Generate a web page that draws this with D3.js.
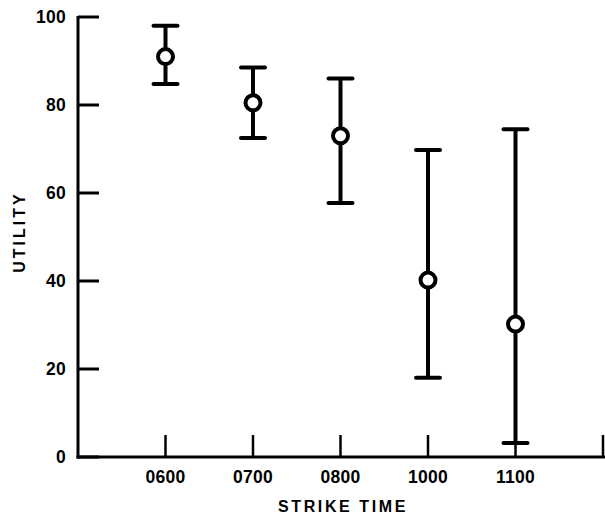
<!DOCTYPE html>
<html>
<head>
<meta charset="utf-8">
<script src="https://cdn.jsdelivr.net/npm/d3@7"></script>
<style>
  body { margin: 0; background: #fff; }
  svg text { font-family: "Liberation Sans", Arial, sans-serif; fill: #000; }
</style>
</head>
<body>
<svg id="chart" width="605" height="520"></svg>
<script>
// values
const times = ['0600', '0700', '0800', '1000', '1100']
const means = [91, 80.5, 73, 40.2, 30.2]
const highs = [98, 88.5, 86, 69.8, 74.5]
const lows = [84.8, 72.5, 57.7, 18, 3.2]
const yTicks = [0, 20, 40, 60, 80, 100]

const svg = d3.select('#chart')
const ink = '#000'

// slot 0 is the origin, slot 6 the closing tick at the right end
let x = d3.scaleLinear().domain([0, 6]).range([78, 603])
let y = d3.scaleLinear().domain([0, 100]).range([457, 17])

// y axis: ticks point inward
let yAxis = svg.append('g')
yAxis.append('line')
  .attr('x1', x(0)).attr('x2', x(0))
  .attr('y1', y(100) - 1).attr('y2', y(0) + 1.5)
  .attr('stroke', ink).attr('stroke-width', 3)
yAxis.selectAll('.yt')
  .data(yTicks)
  .enter()
  .append('line')
  .attr('x1', x(0)).attr('x2', x(0) + 21)
  .attr('y1', d => y(d)).attr('y2', d => y(d))
  .attr('stroke', ink).attr('stroke-width', 3)
yAxis.selectAll('.yl')
  .data(yTicks)
  .enter()
  .append('text')
  .attr('x', 66)
  .attr('y', d => y(d))
  .attr('dy', '0.36em')
  .attr('text-anchor', 'end')
  .style('font-size', '17.5px')
  .style('font-weight', 'bold')
  .style('letter-spacing', '0.3px')
  .text(d => d)

// x axis
let xAxis = svg.append('g')
xAxis.append('line')
  .attr('x1', x(0) - 1.5).attr('x2', x(6) + 2)
  .attr('y1', y(0)).attr('y2', y(0))
  .attr('stroke', ink).attr('stroke-width', 3)
xAxis.selectAll('.xt')
  .data(d3.range(1, 7))
  .enter()
  .append('line')
  .attr('x1', d => x(d)).attr('x2', d => x(d))
  .attr('y1', y(0)).attr('y2', y(0) - 22)
  .attr('stroke', ink).attr('stroke-width', 2.5)
xAxis.selectAll('.xl')
  .data(times)
  .enter()
  .append('text')
  .attr('x', (d, i) => x(i + 1))
  .attr('y', 483)
  .attr('text-anchor', 'middle')
  .style('font-size', '17.5px')
  .style('font-weight', 'bold')
  .style('letter-spacing', '0.3px')
  .text(d => d)

svg.append('text')
  .attr('x', 343)
  .attr('y', 512)
  .attr('text-anchor', 'middle')
  .style('font-size', '16px')
  .style('font-weight', 'bold')
  .style('letter-spacing', '2.6px')
  .text('STRIKE TIME')

svg.append('text')
  .attr('transform', 'translate(25,232) rotate(-90)')
  .attr('text-anchor', 'middle')
  .style('font-size', '16px')
  .style('font-weight', 'bold')
  .style('letter-spacing', '3px')
  .text('UTILITY')

// error bars
let bars = svg.selectAll('.bar')
  .data(times)
  .enter()
  .append('g')

bars.append('line')
  .attr('x1', (d, i) => x(i + 1)).attr('x2', (d, i) => x(i + 1))
  .attr('y1', (d, i) => y(highs[i])).attr('y2', (d, i) => y(lows[i]))
  .attr('stroke', ink).attr('stroke-width', 4)
bars.append('line')
  .attr('x1', (d, i) => x(i + 1) - 12).attr('x2', (d, i) => x(i + 1) + 12)
  .attr('y1', (d, i) => y(highs[i])).attr('y2', (d, i) => y(highs[i]))
  .attr('stroke', ink).attr('stroke-width', 4).attr('stroke-linecap', 'round')
bars.append('line')
  .attr('x1', (d, i) => x(i + 1) - 12).attr('x2', (d, i) => x(i + 1) + 12)
  .attr('y1', (d, i) => y(lows[i])).attr('y2', (d, i) => y(lows[i]))
  .attr('stroke', ink).attr('stroke-width', 4).attr('stroke-linecap', 'round')
bars.append('circle')
  .attr('cx', (d, i) => x(i + 1))
  .attr('cy', (d, i) => y(means[i]))
  .attr('r', 7.5)
  .attr('fill', '#fff')
  .attr('stroke', ink).attr('stroke-width', 4)
</script>
</body>
</html>
